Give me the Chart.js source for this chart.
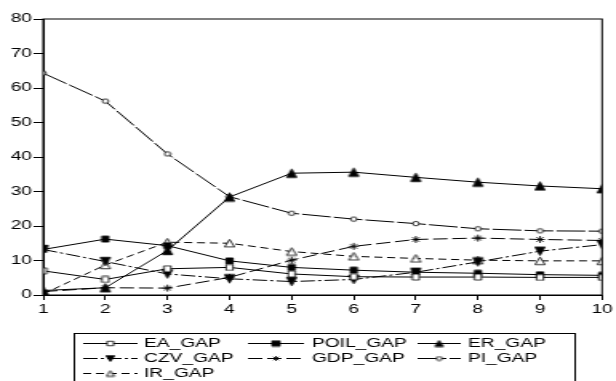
<!DOCTYPE html>
<html>
<head>
<meta charset="utf-8">
<script src="https://cdn.jsdelivr.net/npm/chart.js@4.4.0/dist/chart.umd.min.js"></script>
<style>
  html, body { margin: 0; padding: 0; background: #fff; overflow: hidden; }
  #chart { display: block; }
</style>
</head>
<body>
<canvas id="chart" width="385" height="381" style="width:616px;height:381px"></canvas>
<script>
// horizon (periods) and the seven decomposition series
const periods = ['1', '2', '3', '4', '5', '6', '7', '8', '9', '10'];
const eaGap   = [7.0, 4.5, 7.6, 8.0, 6.1, 5.3, 5.2, 5.2, 5.1, 5.1];
const poilGap = [13.2, 16.2, 14.3, 9.9, 8.0, 7.2, 6.6, 6.3, 5.9, 5.7];
const erGap   = [1.3, 2.1, 12.9, 28.4, 35.3, 35.6, 34.1, 32.7, 31.6, 30.8];
const czvGap  = [13.2, 9.7, 6.1, 4.7, 3.9, 4.5, 6.6, 9.6, 12.7, 14.6];
const gdpGap  = [1.0, 2.1, 2.0, 5.1, 10.1, 14.1, 16.1, 16.5, 16.1, 15.8];
const piGap   = [64.3, 56.2, 40.9, 28.5, 23.7, 22.0, 20.7, 19.2, 18.6, 18.5];
const irGap   = [0.3, 8.7, 15.3, 15.0, 12.6, 11.2, 10.6, 10.1, 9.9, 9.9];
const yTicks  = [0, 10, 20, 30, 40, 50, 60, 70, 80];

// the picture is stretched sideways, so the canvas is drawn narrow and widened by css
const S = 616 / 385;
const FONT = { family: "'Liberation Sans', Arial, sans-serif", size: 12 };

// marker drawn in display pixels, squeezed so the css stretch gives it its real shape
function makeMarker(shape, w, h, filled) {
  const c = document.createElement('canvas');
  c.width = Math.ceil(w / S) + 2;
  c.height = Math.ceil(h) + 2;
  const g = c.getContext('2d');
  g.translate(c.width / 2, c.height / 2);
  g.scale(1 / S, 1);
  g.lineWidth = 1;
  g.strokeStyle = '#000';
  g.fillStyle = filled ? '#000' : '#fff';
  const hw = w / 2, hh = h / 2;
  g.beginPath();
  if (shape === 'rect') {
    g.rect(-hw, -hh, w, h);
  } else if (shape === 'up') {
    g.moveTo(0, -hh); g.lineTo(hw, hh); g.lineTo(-hw, hh); g.closePath();
  } else if (shape === 'down') {
    g.moveTo(0, hh); g.lineTo(hw, -hh); g.lineTo(-hw, -hh); g.closePath();
  } else if (shape === 'circle') {
    g.ellipse(0, 0, hw, hh, 0, 0, Math.PI * 2);
  } else if (shape === 'star') {
    g.moveTo(-hw, 0); g.lineTo(hw, 0);
    g.moveTo(0, -hh); g.lineTo(0, hh);
    g.moveTo(-hw * 0.7, -hh * 0.7); g.lineTo(hw * 0.7, hh * 0.7);
    g.moveTo(-hw * 0.7, hh * 0.7); g.lineTo(hw * 0.7, -hh * 0.7);
  }
  if (shape !== 'star') g.fill();
  g.stroke();
  return c;
}

function series(label, data, dash, shape, filled, w, h, lw, lh) {
  return {
    label: label,
    data: data,
    borderColor: '#000',
    backgroundColor: '#000',
    borderWidth: 1,
    borderDash: dash,
    pointStyle: makeMarker(shape, w, h, filled),
    legendMarker: makeMarker(shape, lw, lh, filled),
    pointRadius: 4,
    tension: 0,
    fill: false,
    clip: 0
  };
}

const legendCols = [
  { x0: 52, x1: 86, tx: 90 },
  { x0: 155, x1: 190, tx: 195 },
  { x0: 261, x1: 288, tx: 292.5 }
];

const boxedLegend = {
  id: 'boxedLegend',
  afterDraw(chart) {
    const ctx = chart.ctx;
    const a = chart.chartArea;
    ctx.save();
    ctx.strokeStyle = '#000';
    ctx.lineWidth = 1;
    ctx.strokeRect(a.left, a.top, a.right - a.left, a.bottom - a.top);
    ctx.strokeRect(46.5, 333.5, 313, 60);
    ctx.font = "12px 'Liberation Sans', Arial, sans-serif";
    ctx.fillStyle = '#000';
    ctx.textBaseline = 'middle';
    chart.data.datasets.forEach(function (ds, i) {
      const col = legendCols[i % 3];
      const y = 343.5 + Math.floor(i / 3) * 15;
      ctx.setLineDash(ds.borderDash || []);
      ctx.beginPath();
      ctx.moveTo(col.x0, y);
      ctx.lineTo(col.x1, y);
      ctx.stroke();
      ctx.setLineDash([]);
      const m = ds.legendMarker;
      ctx.drawImage(m, (col.x0 + col.x1) / 2 - m.width / 2, y - m.height / 2);
      ctx.fillText(ds.label, col.tx, y + 0.5);
    });
    ctx.restore();
  }
};

const ctx = document.getElementById('chart').getContext('2d');
new Chart(ctx, {
  type: 'line',
  data: {
    labels: periods,
    datasets: [
      series('EA_GAP', eaGap, [], 'rect', false, 7, 6, 6.5, 4.5),
      series('POIL_GAP', poilGap, [], 'rect', true, 7, 6, 8, 5.5),
      series('ER_GAP', erGap, [], 'up', true, 10, 8.5, 8.5, 6),
      series('CZV_GAP', czvGap, [9, 2, 2, 2], 'down', true, 10, 8.5, 9, 6),
      series('GDP_GAP', gdpGap, [9, 3], 'star', false, 10, 7, 8, 5),
      series('PI_GAP', piGap, [18, 2], 'circle', false, 6, 4.5, 6, 4),
      series('IR_GAP', irGap, [5, 3], 'up', false, 10, 7.5, 8, 5.5)
    ]
  },
  options: {
    responsive: false,
    animation: false,
    devicePixelRatio: 1,
    layout: { padding: { top: 19, right: 6, bottom: 0, left: 0 } },
    plugins: {
      legend: { display: false },
      tooltip: { enabled: false }
    },
    scales: {
      x: {
        type: 'category',
        offset: false,
        grid: { offset: false, drawOnChartArea: false, tickLength: 5, color: '#000' },
        border: { color: '#000', width: 1 },
        ticks: { color: '#000', font: FONT, padding: 2, maxRotation: 0, autoSkip: false },
        afterFit: function (scale) { scale.height = 86; }
      },
      y: {
        min: 0,
        max: 80,
        afterBuildTicks: function (scale) { scale.ticks = yTicks.map(v => ({ value: v })); },
        grid: { drawOnChartArea: false, tickLength: 6, color: '#000' },
        border: { color: '#000', width: 1 },
        ticks: { color: '#000', font: FONT, padding: 1 },
        afterFit: function (scale) { scale.width = 27; }
      }
    }
  },
  plugins: [boxedLegend]
});
</script>
</body>
</html>
